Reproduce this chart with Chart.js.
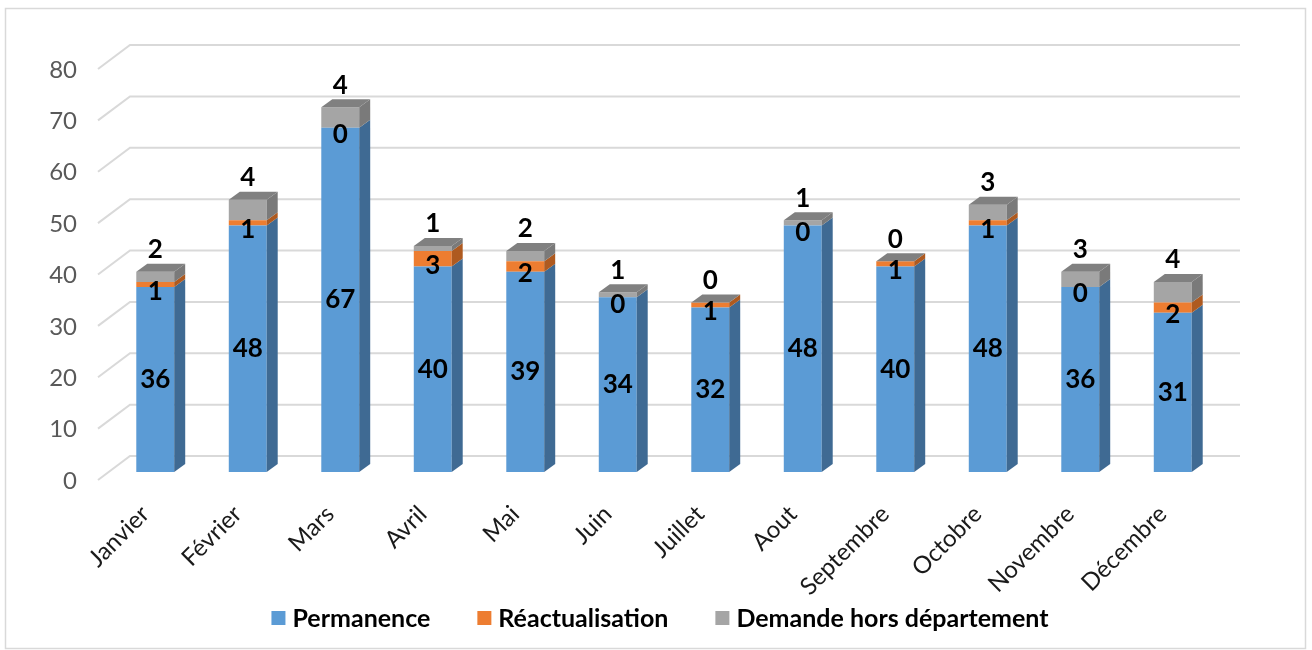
<!DOCTYPE html>
<html lang="fr">
<head>
<meta charset="utf-8">
<title>Permanences par mois</title>
<script src="https://cdn.jsdelivr.net/npm/chart.js@4.4.1/dist/chart.umd.min.js"></script>
<style>
  html, body { margin: 0; padding: 0; background: #fff; }
  canvas { display: block; }
</style>
</head>
<body>
<canvas id="graphique-mois" width="1312" height="650"></canvas>
<script>
/* Histogramme empilé façon Excel 3D — permanences par mois */

const mois = ['Janvier', 'Février', 'Mars', 'Avril', 'Mai', 'Juin', 'Juillet', 'Aout', 'Septembre', 'Octobre', 'Novembre', 'Décembre'];
const permanence      = [36, 48, 67, 40, 39, 34, 32, 48, 40, 48, 36, 31];
const reactualisation = [1, 1, 0, 3, 2, 0, 1, 0, 1, 1, 0, 2];
const horsDepartement = [2, 4, 4, 1, 2, 1, 0, 1, 0, 3, 3, 4];
const graduations     = [0, 10, 20, 30, 40, 50, 60, 70, 80];

// profondeur : plan des barres -> plan avant / plan du fond
const PROF_AVANT = { dx: -11, dy: 8 };
const PROF_FOND  = { dx: 21, dy: -16 };
const PROF_BARRE = { dx: 11, dy: -8 };

const couleursCote = ['#3F6A93', '#AE5A20', '#7A7A7A'];
const couleurDessus = '#808080';

const decor3D = {
    id: 'decor3D',
    beforeDraw(chart) {
        const c = chart.ctx;
        c.save();
        c.fillStyle = '#fff';
        c.fillRect(0, 0, chart.width, chart.height);
        c.strokeStyle = '#D9D9D9';
        c.lineWidth = 1.5;
        c.strokeRect(5.5, 8.5, 1300, 640);
        c.restore();
    },
    beforeDatasetsDraw(chart) {
        const c = chart.ctx, y = chart.scales.y, a = chart.chartArea;
        c.save();
        c.strokeStyle = '#D9D9D9';
        c.lineWidth = 2;
        graduations.forEach(v => {
            const py = y.getPixelForValue(v);
            c.beginPath();
            c.moveTo(a.left + PROF_AVANT.dx, py + PROF_AVANT.dy);
            c.lineTo(a.left + PROF_FOND.dx, py + PROF_FOND.dy);
            c.lineTo(a.right + PROF_FOND.dx, py + PROF_FOND.dy);
            c.stroke();
        });
        c.restore();
    },
    afterDatasetsDraw(chart) {
        const c = chart.ctx;
        const { dx, dy } = PROF_BARRE;
        c.save();
        // faces latérales
        chart.data.datasets.forEach((ds, i) => {
            chart.getDatasetMeta(i).data.forEach(bar => {
                if (Math.abs(bar.base - bar.y) < 0.5) return;
                const xr = bar.x + bar.width / 2;
                c.fillStyle = couleursCote[i];
                c.beginPath();
                c.moveTo(xr, bar.y);
                c.lineTo(xr + dx, bar.y + dy);
                c.lineTo(xr + dx, bar.base + dy);
                c.lineTo(xr, bar.base);
                c.closePath();
                c.fill();
            });
        });
        // face du dessus (haut de la pile)
        const derniere = chart.getDatasetMeta(chart.data.datasets.length - 1).data;
        derniere.forEach(bar => {
            const xl = bar.x - bar.width / 2, xr = bar.x + bar.width / 2;
            c.fillStyle = couleurDessus;
            c.beginPath();
            c.moveTo(xl, bar.y);
            c.lineTo(xl + dx, bar.y + dy);
            c.lineTo(xr + dx, bar.y + dy);
            c.lineTo(xr, bar.y);
            c.closePath();
            c.fill();
        });
        // étiquettes de valeurs
        c.fillStyle = '#000';
        c.font = 'bold 26px Lato';
        c.textAlign = 'center';
        c.textBaseline = 'middle';
        chart.data.datasets.forEach((ds, i) => {
            chart.getDatasetMeta(i).data.forEach((bar, j) => {
                let ly;
                if (i === 0) ly = (bar.y + bar.base) / 2;
                else if (i === 1) ly = (bar.y + bar.base) / 2 + 7;
                else ly = bar.y - 22;
                c.fillText(String(ds.data[j]), bar.x, ly);
            });
        });
        c.restore();
    },
    afterDraw(chart) {
        // légende en bas, centrée
        const c = chart.ctx;
        const ds = chart.data.datasets;
        c.save();
        c.font = 'bold 25px Lato';
        c.textBaseline = 'middle';
        c.textAlign = 'left';
        const carre = 14, ecart = 7, espace = 47, yLeg = 618;
        const largeurs = ds.map(d => carre + ecart + c.measureText(d.label).width);
        const total = largeurs.reduce((s, w) => s + w, 0) + espace * (ds.length - 1);
        let x = 660 - total / 2;
        ds.forEach((d, i) => {
            c.fillStyle = d.backgroundColor;
            c.fillRect(x, yLeg - carre / 2, carre, carre);
            c.fillStyle = '#000';
            c.fillText(d.label, x + carre + ecart, yLeg + 1);
            x += largeurs[i] + espace;
        });
        c.restore();
    }
};

document.addEventListener('DOMContentLoaded', function () {
    const ctx = document.getElementById('graphique-mois');

    new Chart(ctx.getContext('2d'), {
        type: 'bar',
        data: {
            labels: mois,
            datasets: [
                { label: 'Permanence', data: permanence, backgroundColor: '#5B9BD5' },
                { label: 'Réactualisation', data: reactualisation, backgroundColor: '#ED7D31' },
                { label: 'Demande hors département', data: horsDepartement, backgroundColor: '#A5A5A5' }
            ]
        },
        options: {
            responsive: false,
            animation: false,
            events: [],
            layout: { padding: { top: 61, left: 0, right: 93, bottom: 28 } },
            datasets: { bar: { categoryPercentage: 1, barPercentage: 0.41, borderWidth: 0 } },
            plugins: {
                tooltip: { enabled: false },
                legend: { display: false }
            },
            scales: {
                x: {
                    stacked: true,
                    grid: { display: false },
                    border: { display: false },
                    ticks: {
                        color: '#1a1a1a', minRotation: 45, maxRotation: 45, padding: 20, labelOffset: -10,
                        font: { family: 'Lato', size: 24 }
                    },
                    afterFit(s) { s.height = 150; s.paddingLeft = 0; s.paddingRight = 0; }
                },
                y: {
                    stacked: true,
                    min: 0, max: 80,
                    grid: { display: false, drawTicks: false },
                    border: { display: false },
                    ticks: {
                        stepSize: 10, color: '#595959', padding: 32, labelOffset: 9,
                        font: { family: 'Lato', size: 24 }
                    },
                    afterFit(s) { s.width = 109; s.paddingTop = 0; s.paddingBottom = 0; }
                }
            }
        },
        plugins: [decor3D]
    });
});
</script>
</body>
</html>
